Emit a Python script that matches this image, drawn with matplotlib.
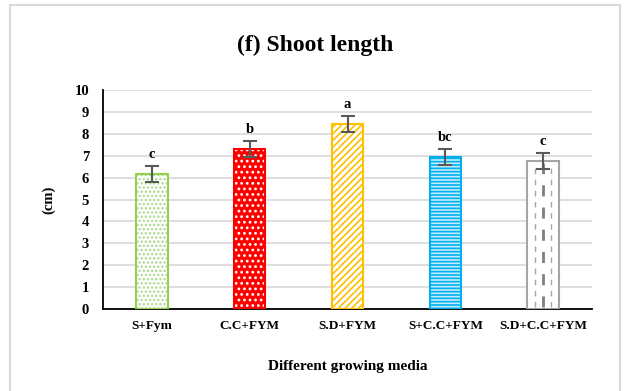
import matplotlib
matplotlib.use("Agg")
import matplotlib.pyplot as plt
from matplotlib.patches import Rectangle
import numpy as np

categories = ["S+Fym", "C.C+FYM", "S.D+FYM", "S+C.C+FYM", "S.D+C.C+FYM"]
values = [6.15, 7.3, 8.45, 6.95, 6.75]
errors = [0.37, 0.38, 0.36, 0.37, 0.38]
letters = ["c", "b", "a", "bc", "c"]

edge_colors = ["#92d050", "#ff0000", "#ffc000", "#00b0f0", "#a5a5a5"]
face_colors = ["white", "#ff0000", "white", "#c5ecfc", "white"]
hatch_colors = ["#a9d98a", "white", "#ffc000", "#00b0f0", "white"]
hatches = ["....", "...", "/////", "-----", ""]

plt.rcParams["font.family"] = ["Liberation Serif", "DejaVu Serif"]
plt.rcParams["font.weight"] = "bold"
plt.rcParams["hatch.linewidth"] = 1.2

fig = plt.figure(figsize=(6.3, 3.91), dpi=100)
fig.patches.append(Rectangle((10/630, -0.02), 610/630, 1.0 - 5/391 + 0.02,
                             transform=fig.transFigure, fill=False,
                             edgecolor="#d9d9d9", lw=1.5))
ax = fig.add_axes([103/630, 1-309/391, 489/630, 219/391])

x = np.arange(len(categories))
w = 0.32
for i in range(len(categories)):
    ax.bar(x[i], values[i], w, color=face_colors[i], edgecolor=hatch_colors[i],
           hatch=hatches[i], linewidth=0, zorder=2)
    ax.bar(x[i], values[i], w, fill=False, edgecolor=edge_colors[i],
           linewidth=1.5, zorder=3)

# dashed vertical lines for the last bar
i = 4
for dx, lw, c in [(-0.085, 1.0, "#a5a5a5"), (0.0, 2.0, "#7f7f7f"), (0.085, 1.0, "#a5a5a5")]:
    ax.plot([x[i] + dx, x[i] + dx], [0.1, values[i] - 0.1], color=c,
            lw=lw, ls=(0, (4, 4)), zorder=3)

ax.errorbar(x, values, yerr=errors, fmt="none", ecolor="#595959",
            elinewidth=1.5, capsize=5, capthick=1.5, zorder=4)

for i in range(len(categories)):
    ax.text(x[i], values[i] + errors[i] + 0.22, letters[i], ha="center",
            va="bottom", fontsize=10.5, fontweight="bold")

ax.set_xlim(-0.5, 4.5)
ax.set_ylim(0, 10)
ax.set_yticks(range(0, 11))
ax.set_xticks(x)
ax.set_xticklabels(categories, fontsize=9.5, fontweight="bold")
ax.tick_params(axis="y", labelsize=10.5, length=0, pad=10)
ax.tick_params(axis="x", length=0, pad=8)
ax.grid(axis="y", color="#d9d9d9", lw=1.2, zorder=0)
ax.set_axisbelow(True)
for s in ["top", "right"]:
    ax.spines[s].set_visible(False)
ax.spines["left"].set_linewidth(1.3)
ax.spines["bottom"].set_linewidth(1.3)

ax.set_ylabel("(cm)", fontsize=10.5, fontweight="bold", labelpad=14)
ax.set_xlabel("Different growing media", fontsize=11, fontweight="bold", labelpad=20)
fig.text(315/630, 1-45/391, "(f) Shoot length", ha="center", va="center",
         fontsize=17, fontweight="bold")

fig.savefig("out.png", dpi=100)
